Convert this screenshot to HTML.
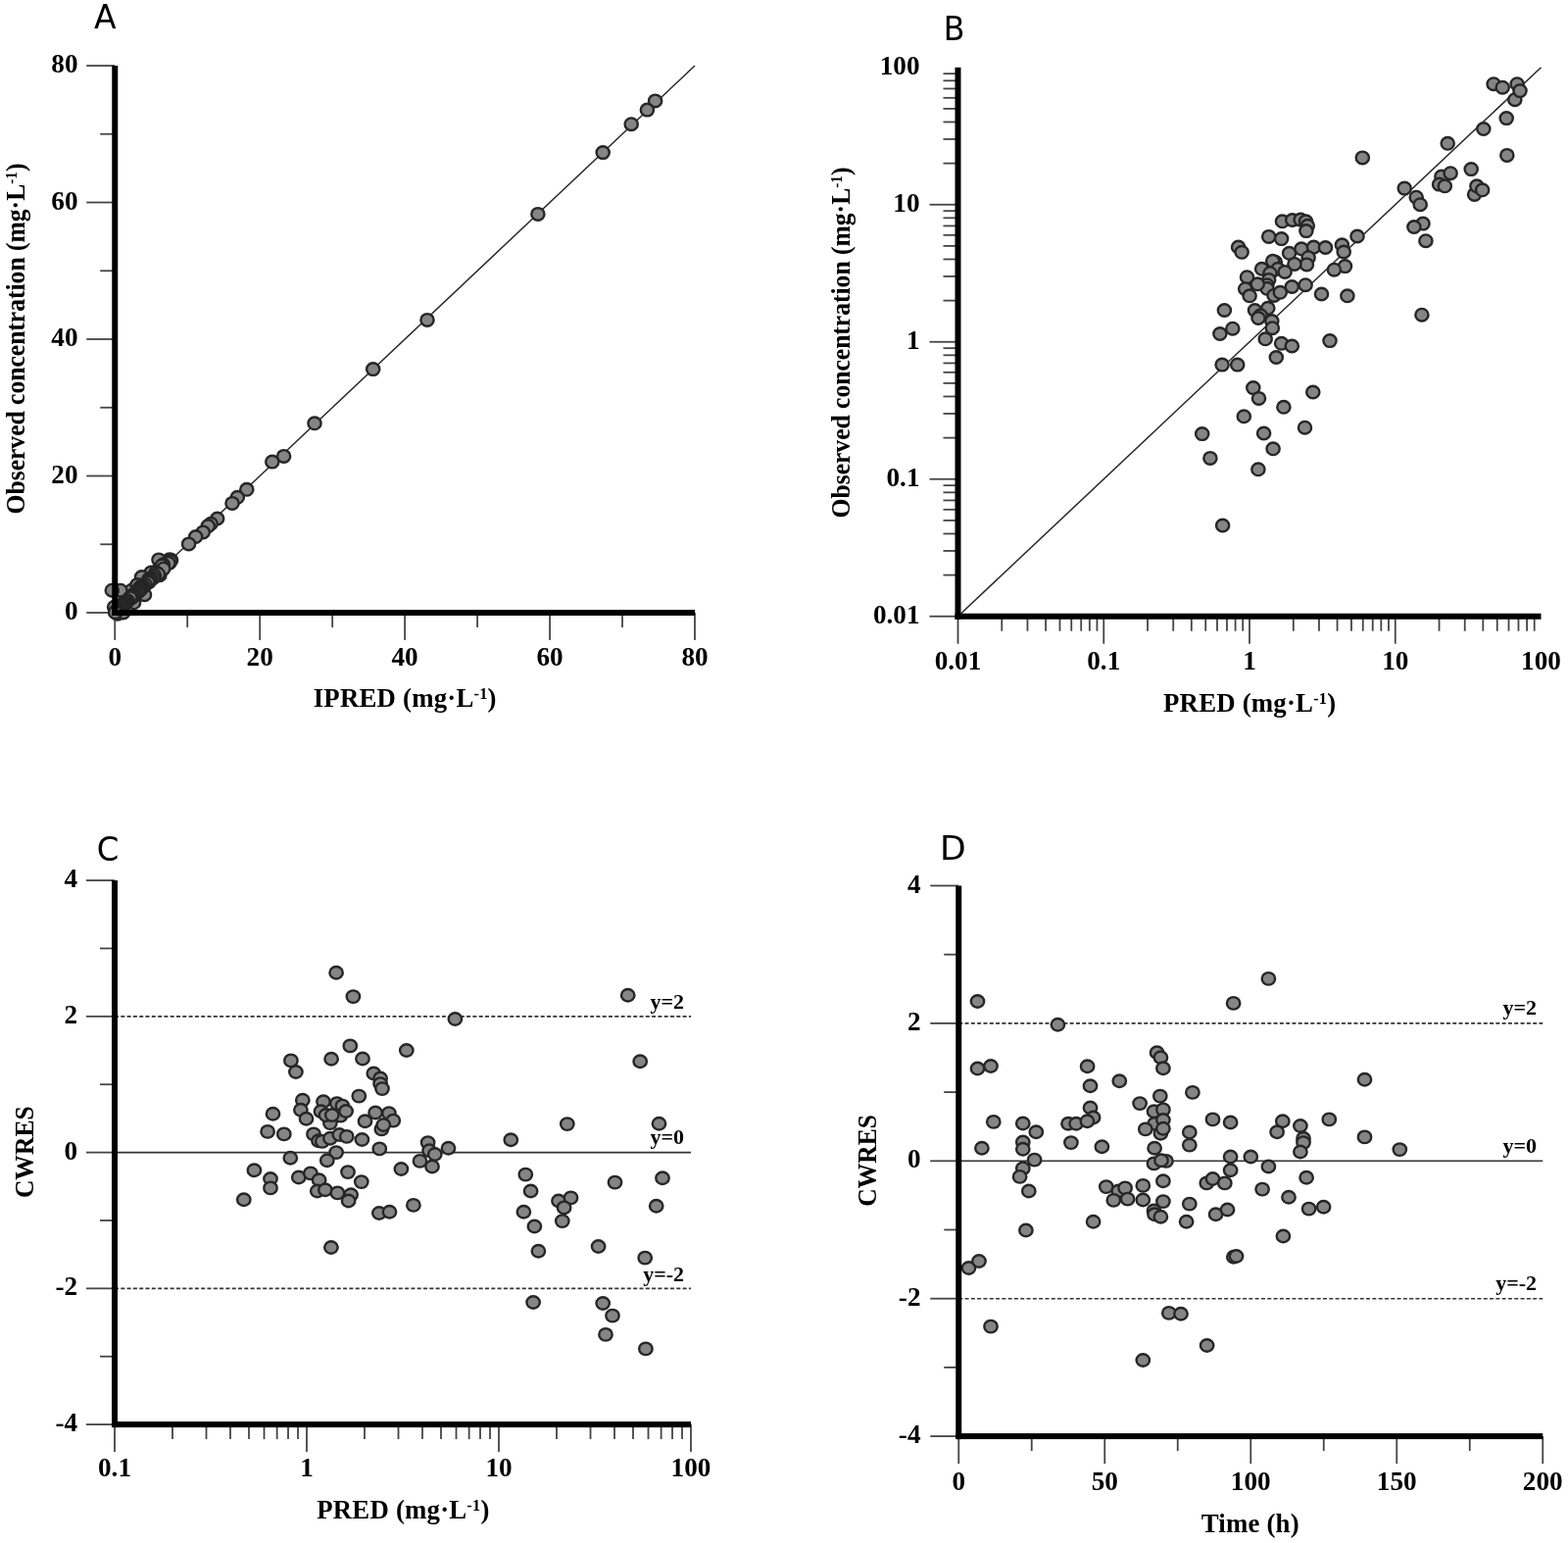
<!DOCTYPE html>
<html><head><meta charset="utf-8"><title>Goodness-of-fit plots</title>
<style>
html,body{margin:0;padding:0;background:#fff;}
svg{display:block;}
.s{font-family:"Liberation Serif","Times New Roman",serif;font-weight:bold;fill:#000;}
.l{font-family:"DejaVu Sans","Liberation Sans",sans-serif;font-weight:normal;fill:#000;}
circle,ellipse{fill:#858585;stroke:#262626;stroke-width:2.4;}
</style></head>
<body>
<svg width="1600" height="1574" viewBox="0 0 1600 1574">
<rect width="1600" height="1574" fill="#fff"/>
<line x1="117.25" y1="625.00" x2="709.00" y2="67.00" stroke="#2a2a2a" stroke-width="1.5" />
<line x1="88.25" y1="625.00" x2="117.25" y2="625.00" stroke="#444" stroke-width="1.8" />
<line x1="117.25" y1="625.00" x2="117.25" y2="653.00" stroke="#444" stroke-width="1.8" />
<text x="79.50" y="632.00" font-size="27.2" text-anchor="end" class="s" >0</text>
<text x="117.25" y="679.30" font-size="27.2" text-anchor="middle" class="s" >0</text>
<line x1="102.25" y1="555.25" x2="117.25" y2="555.25" stroke="#444" stroke-width="1.8" />
<line x1="191.22" y1="625.00" x2="191.22" y2="640.00" stroke="#444" stroke-width="1.8" />
<line x1="88.25" y1="485.50" x2="117.25" y2="485.50" stroke="#444" stroke-width="1.8" />
<line x1="265.19" y1="625.00" x2="265.19" y2="653.00" stroke="#444" stroke-width="1.8" />
<text x="79.50" y="492.50" font-size="27.2" text-anchor="end" class="s" >20</text>
<text x="265.19" y="679.30" font-size="27.2" text-anchor="middle" class="s" >20</text>
<line x1="102.25" y1="415.75" x2="117.25" y2="415.75" stroke="#444" stroke-width="1.8" />
<line x1="339.16" y1="625.00" x2="339.16" y2="640.00" stroke="#444" stroke-width="1.8" />
<line x1="88.25" y1="346.00" x2="117.25" y2="346.00" stroke="#444" stroke-width="1.8" />
<line x1="413.12" y1="625.00" x2="413.12" y2="653.00" stroke="#444" stroke-width="1.8" />
<text x="79.50" y="353.00" font-size="27.2" text-anchor="end" class="s" >40</text>
<text x="413.12" y="679.30" font-size="27.2" text-anchor="middle" class="s" >40</text>
<line x1="102.25" y1="276.25" x2="117.25" y2="276.25" stroke="#444" stroke-width="1.8" />
<line x1="487.09" y1="625.00" x2="487.09" y2="640.00" stroke="#444" stroke-width="1.8" />
<line x1="88.25" y1="206.50" x2="117.25" y2="206.50" stroke="#444" stroke-width="1.8" />
<line x1="561.06" y1="625.00" x2="561.06" y2="653.00" stroke="#444" stroke-width="1.8" />
<text x="79.50" y="213.50" font-size="27.2" text-anchor="end" class="s" >60</text>
<text x="561.06" y="679.30" font-size="27.2" text-anchor="middle" class="s" >60</text>
<line x1="102.25" y1="136.75" x2="117.25" y2="136.75" stroke="#444" stroke-width="1.8" />
<line x1="635.03" y1="625.00" x2="635.03" y2="640.00" stroke="#444" stroke-width="1.8" />
<line x1="88.25" y1="67.00" x2="117.25" y2="67.00" stroke="#444" stroke-width="1.8" />
<line x1="709.00" y1="625.00" x2="709.00" y2="653.00" stroke="#444" stroke-width="1.8" />
<text x="79.50" y="74.00" font-size="27.2" text-anchor="end" class="s" >80</text>
<text x="709.00" y="679.30" font-size="27.2" text-anchor="middle" class="s" >80</text>
<ellipse cx="668.6" cy="102.9" rx="6.6" ry="6.3"/>
<ellipse cx="660.4" cy="112.1" rx="6.6" ry="6.3"/>
<ellipse cx="644.2" cy="126.7" rx="6.6" ry="6.3"/>
<ellipse cx="615.2" cy="155.6" rx="6.6" ry="6.3"/>
<ellipse cx="548.9" cy="218.4" rx="6.6" ry="6.3"/>
<ellipse cx="436.0" cy="326.4" rx="6.6" ry="6.3"/>
<ellipse cx="380.7" cy="376.6" rx="6.6" ry="6.3"/>
<ellipse cx="321.0" cy="431.8" rx="6.6" ry="6.3"/>
<ellipse cx="289.6" cy="465.4" rx="6.6" ry="6.3"/>
<ellipse cx="277.8" cy="471.1" rx="6.6" ry="6.3"/>
<ellipse cx="251.8" cy="499.3" rx="6.6" ry="6.3"/>
<ellipse cx="242.3" cy="507.3" rx="6.6" ry="6.3"/>
<ellipse cx="237.0" cy="513.4" rx="6.6" ry="6.3"/>
<ellipse cx="221.7" cy="529.0" rx="6.6" ry="6.3"/>
<ellipse cx="215.2" cy="534.3" rx="6.6" ry="6.3"/>
<ellipse cx="212.3" cy="536.6" rx="6.6" ry="6.3"/>
<ellipse cx="207.2" cy="542.9" rx="6.6" ry="6.3"/>
<ellipse cx="199.7" cy="547.5" rx="6.6" ry="6.3"/>
<ellipse cx="192.6" cy="554.9" rx="6.6" ry="6.3"/>
<ellipse cx="172.9" cy="574.3" rx="6.6" ry="6.3"/>
<ellipse cx="162.0" cy="570.9" rx="6.6" ry="6.3"/>
<ellipse cx="162.3" cy="580.4" rx="6.6" ry="6.3"/>
<ellipse cx="162.9" cy="586.7" rx="6.6" ry="6.3"/>
<ellipse cx="154.3" cy="583.9" rx="6.6" ry="6.3"/>
<ellipse cx="152.0" cy="591.3" rx="6.6" ry="6.3"/>
<ellipse cx="144.6" cy="588.5" rx="6.6" ry="6.3"/>
<ellipse cx="147.5" cy="606.7" rx="6.6" ry="6.3"/>
<ellipse cx="136.6" cy="614.8" rx="6.6" ry="6.3"/>
<ellipse cx="134.3" cy="602.2" rx="6.6" ry="6.3"/>
<ellipse cx="127.4" cy="613.6" rx="6.6" ry="6.3"/>
<ellipse cx="122.9" cy="602.2" rx="6.6" ry="6.3"/>
<ellipse cx="114.3" cy="602.2" rx="6.6" ry="6.3"/>
<ellipse cx="116.6" cy="619.3" rx="6.6" ry="6.3"/>
<ellipse cx="120.0" cy="626.2" rx="6.6" ry="6.3"/>
<ellipse cx="125.7" cy="625.0" rx="6.6" ry="6.3"/>
<ellipse cx="140.0" cy="596.5" rx="6.6" ry="6.3"/>
<ellipse cx="172.9" cy="570.8" rx="6.6" ry="6.3"/>
<ellipse cx="174.6" cy="571.2" rx="6.6" ry="6.3"/>
<ellipse cx="172.3" cy="572.3" rx="6.6" ry="6.3"/>
<ellipse cx="173.8" cy="572.3" rx="6.6" ry="6.3"/>
<ellipse cx="171.9" cy="574.3" rx="6.6" ry="6.3"/>
<ellipse cx="166.4" cy="576.1" rx="6.6" ry="6.3"/>
<ellipse cx="165.2" cy="577.0" rx="6.6" ry="6.3"/>
<ellipse cx="166.7" cy="580.2" rx="6.6" ry="6.3"/>
<ellipse cx="159.5" cy="584.0" rx="6.6" ry="6.3"/>
<ellipse cx="159.1" cy="584.2" rx="6.6" ry="6.3"/>
<ellipse cx="161.4" cy="585.7" rx="6.6" ry="6.3"/>
<ellipse cx="157.4" cy="587.0" rx="6.6" ry="6.3"/>
<ellipse cx="156.4" cy="589.5" rx="6.6" ry="6.3"/>
<ellipse cx="153.5" cy="590.8" rx="6.6" ry="6.3"/>
<ellipse cx="154.1" cy="590.8" rx="6.6" ry="6.3"/>
<ellipse cx="151.8" cy="591.0" rx="6.6" ry="6.3"/>
<ellipse cx="153.1" cy="591.8" rx="6.6" ry="6.3"/>
<ellipse cx="152.2" cy="593.5" rx="6.6" ry="6.3"/>
<ellipse cx="150.6" cy="593.6" rx="6.6" ry="6.3"/>
<ellipse cx="150.9" cy="594.1" rx="6.6" ry="6.3"/>
<ellipse cx="148.3" cy="596.3" rx="6.6" ry="6.3"/>
<ellipse cx="144.5" cy="597.9" rx="6.6" ry="6.3"/>
<ellipse cx="146.4" cy="598.3" rx="6.6" ry="6.3"/>
<ellipse cx="144.8" cy="599.3" rx="6.6" ry="6.3"/>
<ellipse cx="143.7" cy="599.5" rx="6.6" ry="6.3"/>
<ellipse cx="142.1" cy="600.2" rx="6.6" ry="6.3"/>
<ellipse cx="143.5" cy="601.3" rx="6.6" ry="6.3"/>
<ellipse cx="142.3" cy="601.3" rx="6.6" ry="6.3"/>
<ellipse cx="142.7" cy="601.6" rx="6.6" ry="6.3"/>
<ellipse cx="142.3" cy="602.4" rx="6.6" ry="6.3"/>
<ellipse cx="141.3" cy="602.9" rx="6.6" ry="6.3"/>
<ellipse cx="140.3" cy="604.3" rx="6.6" ry="6.3"/>
<ellipse cx="138.0" cy="605.2" rx="6.6" ry="6.3"/>
<ellipse cx="137.5" cy="606.6" rx="6.6" ry="6.3"/>
<ellipse cx="136.3" cy="606.9" rx="6.6" ry="6.3"/>
<ellipse cx="137.5" cy="606.9" rx="6.6" ry="6.3"/>
<ellipse cx="136.8" cy="607.4" rx="6.6" ry="6.3"/>
<ellipse cx="134.5" cy="607.9" rx="6.6" ry="6.3"/>
<ellipse cx="134.5" cy="608.0" rx="6.6" ry="6.3"/>
<ellipse cx="133.6" cy="609.0" rx="6.6" ry="6.3"/>
<ellipse cx="134.7" cy="609.4" rx="6.6" ry="6.3"/>
<ellipse cx="133.2" cy="609.8" rx="6.6" ry="6.3"/>
<ellipse cx="133.5" cy="609.9" rx="6.6" ry="6.3"/>
<ellipse cx="132.9" cy="609.9" rx="6.6" ry="6.3"/>
<ellipse cx="130.3" cy="612.7" rx="6.6" ry="6.3"/>
<ellipse cx="129.6" cy="613.1" rx="6.6" ry="6.3"/>
<ellipse cx="129.6" cy="613.1" rx="6.6" ry="6.3"/>
<ellipse cx="129.0" cy="614.0" rx="6.6" ry="6.3"/>
<ellipse cx="128.9" cy="614.1" rx="6.6" ry="6.3"/>
<ellipse cx="128.8" cy="614.6" rx="6.6" ry="6.3"/>
<ellipse cx="128.0" cy="615.1" rx="6.6" ry="6.3"/>
<ellipse cx="127.0" cy="616.2" rx="6.6" ry="6.3"/>
<ellipse cx="126.9" cy="616.3" rx="6.6" ry="6.3"/>
<ellipse cx="126.2" cy="617.0" rx="6.6" ry="6.3"/>
<ellipse cx="125.2" cy="617.7" rx="6.6" ry="6.3"/>
<ellipse cx="124.5" cy="617.9" rx="6.6" ry="6.3"/>
<ellipse cx="124.8" cy="618.2" rx="6.6" ry="6.3"/>
<ellipse cx="124.5" cy="618.5" rx="6.6" ry="6.3"/>
<ellipse cx="123.2" cy="619.6" rx="6.6" ry="6.3"/>
<ellipse cx="122.3" cy="620.2" rx="6.6" ry="6.3"/>
<ellipse cx="122.4" cy="620.2" rx="6.6" ry="6.3"/>
<ellipse cx="120.6" cy="621.8" rx="6.6" ry="6.3"/>
<ellipse cx="120.6" cy="622.0" rx="6.6" ry="6.3"/>
<ellipse cx="120.1" cy="622.3" rx="6.6" ry="6.3"/>
<ellipse cx="119.7" cy="622.7" rx="6.6" ry="6.3"/>
<ellipse cx="119.3" cy="623.0" rx="6.6" ry="6.3"/>
<ellipse cx="119.1" cy="623.3" rx="6.6" ry="6.3"/>
<ellipse cx="118.9" cy="623.5" rx="6.6" ry="6.3"/>
<ellipse cx="118.8" cy="623.5" rx="6.6" ry="6.3"/>
<ellipse cx="118.5" cy="623.8" rx="6.6" ry="6.3"/>
<ellipse cx="118.3" cy="624.0" rx="6.6" ry="6.3"/>
<ellipse cx="118.1" cy="624.2" rx="6.6" ry="6.3"/>
<ellipse cx="117.6" cy="624.7" rx="6.6" ry="6.3"/>
<rect x="114.25" y="67.00" width="6" height="561.00" fill="#000"/>
<rect x="114.25" y="622.00" width="594.75" height="6" fill="#000"/>
<text transform="translate(95.90 28.90) scale(1.0 1)" font-size="33" class="l">A</text>
<text x="413.20" y="721.40" font-size="26.8" text-anchor="middle" class="s" letter-spacing="0.2">IPRED (mg·L<tspan dy="-8" font-size="16.4">-1</tspan><tspan dy="8">)</tspan></text>
<text x="0.00" y="0.00" font-size="27.5" text-anchor="middle" class="s" transform="translate(25.2 345.5) rotate(-90) scale(0.93 1)">Observed concentration (mg·L<tspan dy="-8" font-size="16.4">-1</tspan><tspan dy="8">)</tspan></text>
<line x1="977.50" y1="628.75" x2="1572.50" y2="68.75" stroke="#2a2a2a" stroke-width="1.5" />
<line x1="948.50" y1="628.75" x2="977.50" y2="628.75" stroke="#444" stroke-width="1.8" />
<line x1="977.50" y1="628.75" x2="977.50" y2="656.75" stroke="#444" stroke-width="1.8" />
<line x1="962.50" y1="586.61" x2="977.50" y2="586.61" stroke="#444" stroke-width="1.8" />
<line x1="1022.28" y1="628.75" x2="1022.28" y2="643.75" stroke="#444" stroke-width="1.8" />
<line x1="962.50" y1="561.95" x2="977.50" y2="561.95" stroke="#444" stroke-width="1.8" />
<line x1="1048.47" y1="628.75" x2="1048.47" y2="643.75" stroke="#444" stroke-width="1.8" />
<line x1="962.50" y1="544.46" x2="977.50" y2="544.46" stroke="#444" stroke-width="1.8" />
<line x1="1067.06" y1="628.75" x2="1067.06" y2="643.75" stroke="#444" stroke-width="1.8" />
<line x1="962.50" y1="530.89" x2="977.50" y2="530.89" stroke="#444" stroke-width="1.8" />
<line x1="1081.47" y1="628.75" x2="1081.47" y2="643.75" stroke="#444" stroke-width="1.8" />
<line x1="962.50" y1="519.81" x2="977.50" y2="519.81" stroke="#444" stroke-width="1.8" />
<line x1="1093.25" y1="628.75" x2="1093.25" y2="643.75" stroke="#444" stroke-width="1.8" />
<line x1="962.50" y1="510.44" x2="977.50" y2="510.44" stroke="#444" stroke-width="1.8" />
<line x1="1103.21" y1="628.75" x2="1103.21" y2="643.75" stroke="#444" stroke-width="1.8" />
<line x1="962.50" y1="502.32" x2="977.50" y2="502.32" stroke="#444" stroke-width="1.8" />
<line x1="1111.83" y1="628.75" x2="1111.83" y2="643.75" stroke="#444" stroke-width="1.8" />
<line x1="962.50" y1="495.16" x2="977.50" y2="495.16" stroke="#444" stroke-width="1.8" />
<line x1="1119.44" y1="628.75" x2="1119.44" y2="643.75" stroke="#444" stroke-width="1.8" />
<line x1="948.50" y1="488.75" x2="977.50" y2="488.75" stroke="#444" stroke-width="1.8" />
<line x1="1126.25" y1="628.75" x2="1126.25" y2="656.75" stroke="#444" stroke-width="1.8" />
<line x1="962.50" y1="446.61" x2="977.50" y2="446.61" stroke="#444" stroke-width="1.8" />
<line x1="1171.03" y1="628.75" x2="1171.03" y2="643.75" stroke="#444" stroke-width="1.8" />
<line x1="962.50" y1="421.95" x2="977.50" y2="421.95" stroke="#444" stroke-width="1.8" />
<line x1="1197.22" y1="628.75" x2="1197.22" y2="643.75" stroke="#444" stroke-width="1.8" />
<line x1="962.50" y1="404.46" x2="977.50" y2="404.46" stroke="#444" stroke-width="1.8" />
<line x1="1215.81" y1="628.75" x2="1215.81" y2="643.75" stroke="#444" stroke-width="1.8" />
<line x1="962.50" y1="390.89" x2="977.50" y2="390.89" stroke="#444" stroke-width="1.8" />
<line x1="1230.22" y1="628.75" x2="1230.22" y2="643.75" stroke="#444" stroke-width="1.8" />
<line x1="962.50" y1="379.81" x2="977.50" y2="379.81" stroke="#444" stroke-width="1.8" />
<line x1="1242.00" y1="628.75" x2="1242.00" y2="643.75" stroke="#444" stroke-width="1.8" />
<line x1="962.50" y1="370.44" x2="977.50" y2="370.44" stroke="#444" stroke-width="1.8" />
<line x1="1251.96" y1="628.75" x2="1251.96" y2="643.75" stroke="#444" stroke-width="1.8" />
<line x1="962.50" y1="362.32" x2="977.50" y2="362.32" stroke="#444" stroke-width="1.8" />
<line x1="1260.58" y1="628.75" x2="1260.58" y2="643.75" stroke="#444" stroke-width="1.8" />
<line x1="962.50" y1="355.16" x2="977.50" y2="355.16" stroke="#444" stroke-width="1.8" />
<line x1="1268.19" y1="628.75" x2="1268.19" y2="643.75" stroke="#444" stroke-width="1.8" />
<line x1="948.50" y1="348.75" x2="977.50" y2="348.75" stroke="#444" stroke-width="1.8" />
<line x1="1275.00" y1="628.75" x2="1275.00" y2="656.75" stroke="#444" stroke-width="1.8" />
<line x1="962.50" y1="306.61" x2="977.50" y2="306.61" stroke="#444" stroke-width="1.8" />
<line x1="1319.78" y1="628.75" x2="1319.78" y2="643.75" stroke="#444" stroke-width="1.8" />
<line x1="962.50" y1="281.95" x2="977.50" y2="281.95" stroke="#444" stroke-width="1.8" />
<line x1="1345.97" y1="628.75" x2="1345.97" y2="643.75" stroke="#444" stroke-width="1.8" />
<line x1="962.50" y1="264.46" x2="977.50" y2="264.46" stroke="#444" stroke-width="1.8" />
<line x1="1364.56" y1="628.75" x2="1364.56" y2="643.75" stroke="#444" stroke-width="1.8" />
<line x1="962.50" y1="250.89" x2="977.50" y2="250.89" stroke="#444" stroke-width="1.8" />
<line x1="1378.97" y1="628.75" x2="1378.97" y2="643.75" stroke="#444" stroke-width="1.8" />
<line x1="962.50" y1="239.81" x2="977.50" y2="239.81" stroke="#444" stroke-width="1.8" />
<line x1="1390.75" y1="628.75" x2="1390.75" y2="643.75" stroke="#444" stroke-width="1.8" />
<line x1="962.50" y1="230.44" x2="977.50" y2="230.44" stroke="#444" stroke-width="1.8" />
<line x1="1400.71" y1="628.75" x2="1400.71" y2="643.75" stroke="#444" stroke-width="1.8" />
<line x1="962.50" y1="222.32" x2="977.50" y2="222.32" stroke="#444" stroke-width="1.8" />
<line x1="1409.33" y1="628.75" x2="1409.33" y2="643.75" stroke="#444" stroke-width="1.8" />
<line x1="962.50" y1="215.16" x2="977.50" y2="215.16" stroke="#444" stroke-width="1.8" />
<line x1="1416.94" y1="628.75" x2="1416.94" y2="643.75" stroke="#444" stroke-width="1.8" />
<line x1="948.50" y1="208.75" x2="977.50" y2="208.75" stroke="#444" stroke-width="1.8" />
<line x1="1423.75" y1="628.75" x2="1423.75" y2="656.75" stroke="#444" stroke-width="1.8" />
<line x1="962.50" y1="166.61" x2="977.50" y2="166.61" stroke="#444" stroke-width="1.8" />
<line x1="1468.53" y1="628.75" x2="1468.53" y2="643.75" stroke="#444" stroke-width="1.8" />
<line x1="962.50" y1="141.95" x2="977.50" y2="141.95" stroke="#444" stroke-width="1.8" />
<line x1="1494.72" y1="628.75" x2="1494.72" y2="643.75" stroke="#444" stroke-width="1.8" />
<line x1="962.50" y1="124.46" x2="977.50" y2="124.46" stroke="#444" stroke-width="1.8" />
<line x1="1513.31" y1="628.75" x2="1513.31" y2="643.75" stroke="#444" stroke-width="1.8" />
<line x1="962.50" y1="110.89" x2="977.50" y2="110.89" stroke="#444" stroke-width="1.8" />
<line x1="1527.72" y1="628.75" x2="1527.72" y2="643.75" stroke="#444" stroke-width="1.8" />
<line x1="962.50" y1="99.81" x2="977.50" y2="99.81" stroke="#444" stroke-width="1.8" />
<line x1="1539.50" y1="628.75" x2="1539.50" y2="643.75" stroke="#444" stroke-width="1.8" />
<line x1="962.50" y1="90.44" x2="977.50" y2="90.44" stroke="#444" stroke-width="1.8" />
<line x1="1549.46" y1="628.75" x2="1549.46" y2="643.75" stroke="#444" stroke-width="1.8" />
<line x1="962.50" y1="82.32" x2="977.50" y2="82.32" stroke="#444" stroke-width="1.8" />
<line x1="1558.08" y1="628.75" x2="1558.08" y2="643.75" stroke="#444" stroke-width="1.8" />
<line x1="962.50" y1="75.16" x2="977.50" y2="75.16" stroke="#444" stroke-width="1.8" />
<line x1="1565.69" y1="628.75" x2="1565.69" y2="643.75" stroke="#444" stroke-width="1.8" />
<text x="938.50" y="635.75" font-size="27.2" text-anchor="end" class="s" >0.01</text>
<text x="977.50" y="683.30" font-size="27.2" text-anchor="middle" class="s" >0.01</text>
<text x="938.50" y="495.75" font-size="27.2" text-anchor="end" class="s" >0.1</text>
<text x="1126.25" y="683.30" font-size="27.2" text-anchor="middle" class="s" >0.1</text>
<text x="938.50" y="355.75" font-size="27.2" text-anchor="end" class="s" >1</text>
<text x="1275.00" y="683.30" font-size="27.2" text-anchor="middle" class="s" >1</text>
<text x="938.50" y="215.75" font-size="27.2" text-anchor="end" class="s" >10</text>
<text x="1423.75" y="683.30" font-size="27.2" text-anchor="middle" class="s" >10</text>
<text x="938.50" y="75.75" font-size="27.2" text-anchor="end" class="s" >100</text>
<text x="1572.50" y="683.30" font-size="27.2" text-anchor="middle" class="s" >100</text>
<ellipse cx="1524.1" cy="85.7" rx="6.6" ry="6.3"/>
<ellipse cx="1533.2" cy="89.2" rx="6.6" ry="6.3"/>
<ellipse cx="1548.1" cy="85.7" rx="6.6" ry="6.3"/>
<ellipse cx="1545.8" cy="101.7" rx="6.6" ry="6.3"/>
<ellipse cx="1551.0" cy="92.6" rx="6.6" ry="6.3"/>
<ellipse cx="1537.2" cy="120.6" rx="6.6" ry="6.3"/>
<ellipse cx="1513.8" cy="131.5" rx="6.6" ry="6.3"/>
<ellipse cx="1477.2" cy="146.3" rx="6.6" ry="6.3"/>
<ellipse cx="1537.8" cy="158.4" rx="6.6" ry="6.3"/>
<ellipse cx="1501.2" cy="172.6" rx="6.6" ry="6.3"/>
<ellipse cx="1470.9" cy="180.1" rx="6.6" ry="6.3"/>
<ellipse cx="1468.6" cy="188.1" rx="6.6" ry="6.3"/>
<ellipse cx="1480.1" cy="176.7" rx="6.6" ry="6.3"/>
<ellipse cx="1474.3" cy="189.8" rx="6.6" ry="6.3"/>
<ellipse cx="1504.6" cy="198.4" rx="6.6" ry="6.3"/>
<ellipse cx="1506.9" cy="189.8" rx="6.6" ry="6.3"/>
<ellipse cx="1512.6" cy="193.8" rx="6.6" ry="6.3"/>
<ellipse cx="1433.2" cy="192.1" rx="6.6" ry="6.3"/>
<ellipse cx="1445.2" cy="201.2" rx="6.6" ry="6.3"/>
<ellipse cx="1449.2" cy="208.7" rx="6.6" ry="6.3"/>
<ellipse cx="1452.0" cy="228.1" rx="6.6" ry="6.3"/>
<ellipse cx="1442.9" cy="231.5" rx="6.6" ry="6.3"/>
<ellipse cx="1454.9" cy="245.7" rx="6.6" ry="6.3"/>
<ellipse cx="1450.9" cy="321.2" rx="6.6" ry="6.3"/>
<ellipse cx="1390.3" cy="160.9" rx="6.6" ry="6.3"/>
<ellipse cx="1308.5" cy="225.8" rx="6.6" ry="6.3"/>
<ellipse cx="1318.7" cy="224.5" rx="6.6" ry="6.3"/>
<ellipse cx="1327.1" cy="224.1" rx="6.6" ry="6.3"/>
<ellipse cx="1332.5" cy="225.8" rx="6.6" ry="6.3"/>
<ellipse cx="1334.3" cy="230.3" rx="6.6" ry="6.3"/>
<ellipse cx="1332.9" cy="235.6" rx="6.6" ry="6.3"/>
<ellipse cx="1294.7" cy="241.4" rx="6.6" ry="6.3"/>
<ellipse cx="1307.6" cy="243.6" rx="6.6" ry="6.3"/>
<ellipse cx="1385.0" cy="241.0" rx="6.6" ry="6.3"/>
<ellipse cx="1369.4" cy="249.8" rx="6.6" ry="6.3"/>
<ellipse cx="1371.2" cy="257.0" rx="6.6" ry="6.3"/>
<ellipse cx="1372.5" cy="271.6" rx="6.6" ry="6.3"/>
<ellipse cx="1361.4" cy="275.2" rx="6.6" ry="6.3"/>
<ellipse cx="1315.6" cy="258.3" rx="6.6" ry="6.3"/>
<ellipse cx="1328.0" cy="253.8" rx="6.6" ry="6.3"/>
<ellipse cx="1340.5" cy="252.1" rx="6.6" ry="6.3"/>
<ellipse cx="1352.5" cy="252.5" rx="6.6" ry="6.3"/>
<ellipse cx="1335.1" cy="262.7" rx="6.6" ry="6.3"/>
<ellipse cx="1333.4" cy="269.9" rx="6.6" ry="6.3"/>
<ellipse cx="1320.9" cy="269.4" rx="6.6" ry="6.3"/>
<ellipse cx="1301.3" cy="267.2" rx="6.6" ry="6.3"/>
<ellipse cx="1298.7" cy="266.3" rx="6.6" ry="6.3"/>
<ellipse cx="1287.6" cy="274.3" rx="6.6" ry="6.3"/>
<ellipse cx="1304.0" cy="274.3" rx="6.6" ry="6.3"/>
<ellipse cx="1311.1" cy="277.4" rx="6.6" ry="6.3"/>
<ellipse cx="1296.0" cy="278.7" rx="6.6" ry="6.3"/>
<ellipse cx="1263.6" cy="252.0" rx="6.6" ry="6.3"/>
<ellipse cx="1267.1" cy="257.3" rx="6.6" ry="6.3"/>
<ellipse cx="1294.7" cy="285.4" rx="6.6" ry="6.3"/>
<ellipse cx="1292.9" cy="290.7" rx="6.6" ry="6.3"/>
<ellipse cx="1292.9" cy="294.3" rx="6.6" ry="6.3"/>
<ellipse cx="1283.2" cy="289.8" rx="6.6" ry="6.3"/>
<ellipse cx="1272.5" cy="282.7" rx="6.6" ry="6.3"/>
<ellipse cx="1270.7" cy="294.7" rx="6.6" ry="6.3"/>
<ellipse cx="1275.1" cy="301.8" rx="6.6" ry="6.3"/>
<ellipse cx="1300.0" cy="301.4" rx="6.6" ry="6.3"/>
<ellipse cx="1306.3" cy="298.3" rx="6.6" ry="6.3"/>
<ellipse cx="1318.3" cy="292.5" rx="6.6" ry="6.3"/>
<ellipse cx="1332.1" cy="290.7" rx="6.6" ry="6.3"/>
<ellipse cx="1348.5" cy="300.0" rx="6.6" ry="6.3"/>
<ellipse cx="1374.9" cy="301.8" rx="6.6" ry="6.3"/>
<ellipse cx="1249.4" cy="316.5" rx="6.6" ry="6.3"/>
<ellipse cx="1280.5" cy="316.5" rx="6.6" ry="6.3"/>
<ellipse cx="1293.8" cy="314.3" rx="6.6" ry="6.3"/>
<ellipse cx="1286.3" cy="321.8" rx="6.6" ry="6.3"/>
<ellipse cx="1284.0" cy="324.5" rx="6.6" ry="6.3"/>
<ellipse cx="1297.8" cy="327.6" rx="6.6" ry="6.3"/>
<ellipse cx="1298.3" cy="334.7" rx="6.6" ry="6.3"/>
<ellipse cx="1257.8" cy="335.2" rx="6.6" ry="6.3"/>
<ellipse cx="1244.9" cy="340.5" rx="6.6" ry="6.3"/>
<ellipse cx="1291.2" cy="345.8" rx="6.6" ry="6.3"/>
<ellipse cx="1307.6" cy="350.3" rx="6.6" ry="6.3"/>
<ellipse cx="1318.3" cy="353.0" rx="6.6" ry="6.3"/>
<ellipse cx="1302.3" cy="364.5" rx="6.6" ry="6.3"/>
<ellipse cx="1357.0" cy="347.6" rx="6.6" ry="6.3"/>
<ellipse cx="1247.1" cy="372.1" rx="6.6" ry="6.3"/>
<ellipse cx="1262.7" cy="372.1" rx="6.6" ry="6.3"/>
<ellipse cx="1278.8" cy="395.6" rx="6.6" ry="6.3"/>
<ellipse cx="1284.5" cy="406.4" rx="6.6" ry="6.3"/>
<ellipse cx="1339.8" cy="400.0" rx="6.6" ry="6.3"/>
<ellipse cx="1309.9" cy="415.3" rx="6.6" ry="6.3"/>
<ellipse cx="1269.3" cy="424.8" rx="6.6" ry="6.3"/>
<ellipse cx="1226.7" cy="442.6" rx="6.6" ry="6.3"/>
<ellipse cx="1289.6" cy="442.0" rx="6.6" ry="6.3"/>
<ellipse cx="1331.5" cy="436.2" rx="6.6" ry="6.3"/>
<ellipse cx="1299.1" cy="457.8" rx="6.6" ry="6.3"/>
<ellipse cx="1234.9" cy="467.4" rx="6.6" ry="6.3"/>
<ellipse cx="1283.9" cy="478.8" rx="6.6" ry="6.3"/>
<ellipse cx="1247.6" cy="536.0" rx="6.6" ry="6.3"/>
<rect x="974.50" y="68.75" width="6" height="563.00" fill="#000"/>
<rect x="974.50" y="625.75" width="598.00" height="6" fill="#000"/>
<text transform="translate(962.80 40.80) scale(0.96 1)" font-size="33" class="l">B</text>
<text x="1275.20" y="726.40" font-size="26.8" text-anchor="middle" class="s" letter-spacing="0.2">PRED (mg·L<tspan dy="-8" font-size="16.4">-1</tspan><tspan dy="8">)</tspan></text>
<text x="0.00" y="0.00" font-size="27.5" text-anchor="middle" class="s" transform="translate(867.2 349.5) rotate(-90) scale(0.93 1)">Observed concentration (mg·L<tspan dy="-8" font-size="16.4">-1</tspan><tspan dy="8">)</tspan></text>
<line x1="117.00" y1="1453.10" x2="117.00" y2="1481.10" stroke="#444" stroke-width="1.8" />
<line x1="176.00" y1="1453.10" x2="176.00" y2="1468.10" stroke="#444" stroke-width="1.8" />
<line x1="210.52" y1="1453.10" x2="210.52" y2="1468.10" stroke="#444" stroke-width="1.8" />
<line x1="235.00" y1="1453.10" x2="235.00" y2="1468.10" stroke="#444" stroke-width="1.8" />
<line x1="254.00" y1="1453.10" x2="254.00" y2="1468.10" stroke="#444" stroke-width="1.8" />
<line x1="269.52" y1="1453.10" x2="269.52" y2="1468.10" stroke="#444" stroke-width="1.8" />
<line x1="282.64" y1="1453.10" x2="282.64" y2="1468.10" stroke="#444" stroke-width="1.8" />
<line x1="294.01" y1="1453.10" x2="294.01" y2="1468.10" stroke="#444" stroke-width="1.8" />
<line x1="304.03" y1="1453.10" x2="304.03" y2="1468.10" stroke="#444" stroke-width="1.8" />
<line x1="313.00" y1="1453.10" x2="313.00" y2="1481.10" stroke="#444" stroke-width="1.8" />
<line x1="372.00" y1="1453.10" x2="372.00" y2="1468.10" stroke="#444" stroke-width="1.8" />
<line x1="406.52" y1="1453.10" x2="406.52" y2="1468.10" stroke="#444" stroke-width="1.8" />
<line x1="431.00" y1="1453.10" x2="431.00" y2="1468.10" stroke="#444" stroke-width="1.8" />
<line x1="450.00" y1="1453.10" x2="450.00" y2="1468.10" stroke="#444" stroke-width="1.8" />
<line x1="465.52" y1="1453.10" x2="465.52" y2="1468.10" stroke="#444" stroke-width="1.8" />
<line x1="478.64" y1="1453.10" x2="478.64" y2="1468.10" stroke="#444" stroke-width="1.8" />
<line x1="490.01" y1="1453.10" x2="490.01" y2="1468.10" stroke="#444" stroke-width="1.8" />
<line x1="500.03" y1="1453.10" x2="500.03" y2="1468.10" stroke="#444" stroke-width="1.8" />
<line x1="509.00" y1="1453.10" x2="509.00" y2="1481.10" stroke="#444" stroke-width="1.8" />
<line x1="568.00" y1="1453.10" x2="568.00" y2="1468.10" stroke="#444" stroke-width="1.8" />
<line x1="602.52" y1="1453.10" x2="602.52" y2="1468.10" stroke="#444" stroke-width="1.8" />
<line x1="627.00" y1="1453.10" x2="627.00" y2="1468.10" stroke="#444" stroke-width="1.8" />
<line x1="646.00" y1="1453.10" x2="646.00" y2="1468.10" stroke="#444" stroke-width="1.8" />
<line x1="661.52" y1="1453.10" x2="661.52" y2="1468.10" stroke="#444" stroke-width="1.8" />
<line x1="674.64" y1="1453.10" x2="674.64" y2="1468.10" stroke="#444" stroke-width="1.8" />
<line x1="686.01" y1="1453.10" x2="686.01" y2="1468.10" stroke="#444" stroke-width="1.8" />
<line x1="696.03" y1="1453.10" x2="696.03" y2="1468.10" stroke="#444" stroke-width="1.8" />
<line x1="705.00" y1="1453.10" x2="705.00" y2="1481.10" stroke="#444" stroke-width="1.8" />
<line x1="88.00" y1="1453.10" x2="117.00" y2="1453.10" stroke="#444" stroke-width="1.8" />
<text x="79.20" y="1460.10" font-size="27.2" text-anchor="end" class="s" >-4</text>
<line x1="102.00" y1="1383.72" x2="117.00" y2="1383.72" stroke="#444" stroke-width="1.8" />
<line x1="88.00" y1="1314.35" x2="117.00" y2="1314.35" stroke="#444" stroke-width="1.8" />
<text x="79.20" y="1321.35" font-size="27.2" text-anchor="end" class="s" >-2</text>
<line x1="102.00" y1="1244.97" x2="117.00" y2="1244.97" stroke="#444" stroke-width="1.8" />
<line x1="88.00" y1="1175.60" x2="117.00" y2="1175.60" stroke="#444" stroke-width="1.8" />
<text x="79.20" y="1182.60" font-size="27.2" text-anchor="end" class="s" >0</text>
<line x1="102.00" y1="1106.22" x2="117.00" y2="1106.22" stroke="#444" stroke-width="1.8" />
<line x1="88.00" y1="1036.85" x2="117.00" y2="1036.85" stroke="#444" stroke-width="1.8" />
<text x="79.20" y="1043.85" font-size="27.2" text-anchor="end" class="s" >2</text>
<line x1="102.00" y1="967.47" x2="117.00" y2="967.47" stroke="#444" stroke-width="1.8" />
<line x1="88.00" y1="898.10" x2="117.00" y2="898.10" stroke="#444" stroke-width="1.8" />
<text x="79.20" y="905.10" font-size="27.2" text-anchor="end" class="s" >4</text>
<text x="117.00" y="1505.50" font-size="27.2" text-anchor="middle" class="s" >0.1</text>
<text x="313.00" y="1505.50" font-size="27.2" text-anchor="middle" class="s" >1</text>
<text x="509.00" y="1505.50" font-size="27.2" text-anchor="middle" class="s" >10</text>
<text x="705.00" y="1505.50" font-size="27.2" text-anchor="middle" class="s" >100</text>
<line x1="117.00" y1="1175.60" x2="705.00" y2="1175.60" stroke="#333" stroke-width="1.6" />
<line x1="117.00" y1="1036.85" x2="705.00" y2="1036.85" stroke="#333" stroke-width="1.6" stroke-dasharray="4 2.3"/>
<line x1="117.00" y1="1314.35" x2="705.00" y2="1314.35" stroke="#333" stroke-width="1.6" stroke-dasharray="4 2.3"/>
<ellipse cx="343.1" cy="992.3" rx="6.7" ry="6.25"/>
<ellipse cx="360.4" cy="1016.6" rx="6.7" ry="6.25"/>
<ellipse cx="357.3" cy="1066.9" rx="6.7" ry="6.25"/>
<ellipse cx="338.1" cy="1080.3" rx="6.7" ry="6.25"/>
<ellipse cx="370.0" cy="1080.0" rx="6.7" ry="6.25"/>
<ellipse cx="414.8" cy="1071.5" rx="6.7" ry="6.25"/>
<ellipse cx="296.9" cy="1081.9" rx="6.7" ry="6.25"/>
<ellipse cx="301.9" cy="1093.5" rx="6.7" ry="6.25"/>
<ellipse cx="381.3" cy="1095.0" rx="6.7" ry="6.25"/>
<ellipse cx="388.1" cy="1100.0" rx="6.7" ry="6.25"/>
<ellipse cx="388.1" cy="1105.6" rx="6.7" ry="6.25"/>
<ellipse cx="390.0" cy="1110.6" rx="6.7" ry="6.25"/>
<ellipse cx="366.3" cy="1118.1" rx="6.7" ry="6.25"/>
<ellipse cx="308.8" cy="1122.3" rx="6.7" ry="6.25"/>
<ellipse cx="306.9" cy="1132.3" rx="6.7" ry="6.25"/>
<ellipse cx="312.5" cy="1141.3" rx="6.7" ry="6.25"/>
<ellipse cx="278.5" cy="1136.3" rx="6.7" ry="6.25"/>
<ellipse cx="273.1" cy="1154.4" rx="6.7" ry="6.25"/>
<ellipse cx="289.8" cy="1156.9" rx="6.7" ry="6.25"/>
<ellipse cx="336.9" cy="1145.6" rx="6.7" ry="6.25"/>
<ellipse cx="330.0" cy="1123.8" rx="6.7" ry="6.25"/>
<ellipse cx="343.8" cy="1125.6" rx="6.7" ry="6.25"/>
<ellipse cx="349.4" cy="1128.1" rx="6.7" ry="6.25"/>
<ellipse cx="347.5" cy="1138.1" rx="6.7" ry="6.25"/>
<ellipse cx="327.5" cy="1133.8" rx="6.7" ry="6.25"/>
<ellipse cx="332.5" cy="1137.5" rx="6.7" ry="6.25"/>
<ellipse cx="338.8" cy="1137.5" rx="6.7" ry="6.25"/>
<ellipse cx="353.1" cy="1133.5" rx="6.7" ry="6.25"/>
<ellipse cx="320.0" cy="1156.9" rx="6.7" ry="6.25"/>
<ellipse cx="325.0" cy="1163.8" rx="6.7" ry="6.25"/>
<ellipse cx="328.8" cy="1164.4" rx="6.7" ry="6.25"/>
<ellipse cx="336.9" cy="1161.3" rx="6.7" ry="6.25"/>
<ellipse cx="346.3" cy="1157.5" rx="6.7" ry="6.25"/>
<ellipse cx="353.8" cy="1159.4" rx="6.7" ry="6.25"/>
<ellipse cx="369.4" cy="1162.5" rx="6.7" ry="6.25"/>
<ellipse cx="372.5" cy="1143.8" rx="6.7" ry="6.25"/>
<ellipse cx="383.1" cy="1135.0" rx="6.7" ry="6.25"/>
<ellipse cx="396.9" cy="1135.6" rx="6.7" ry="6.25"/>
<ellipse cx="401.3" cy="1143.1" rx="6.7" ry="6.25"/>
<ellipse cx="389.4" cy="1151.9" rx="6.7" ry="6.25"/>
<ellipse cx="391.3" cy="1147.5" rx="6.7" ry="6.25"/>
<ellipse cx="387.3" cy="1171.9" rx="6.7" ry="6.25"/>
<ellipse cx="343.1" cy="1175.6" rx="6.7" ry="6.25"/>
<ellipse cx="333.8" cy="1183.8" rx="6.7" ry="6.25"/>
<ellipse cx="296.3" cy="1181.3" rx="6.7" ry="6.25"/>
<ellipse cx="409.4" cy="1192.5" rx="6.7" ry="6.25"/>
<ellipse cx="355.0" cy="1195.6" rx="6.7" ry="6.25"/>
<ellipse cx="368.8" cy="1205.6" rx="6.7" ry="6.25"/>
<ellipse cx="259.4" cy="1193.8" rx="6.7" ry="6.25"/>
<ellipse cx="276.0" cy="1202.5" rx="6.7" ry="6.25"/>
<ellipse cx="276.0" cy="1211.9" rx="6.7" ry="6.25"/>
<ellipse cx="248.8" cy="1223.8" rx="6.7" ry="6.25"/>
<ellipse cx="304.8" cy="1201.0" rx="6.7" ry="6.25"/>
<ellipse cx="316.9" cy="1196.9" rx="6.7" ry="6.25"/>
<ellipse cx="325.6" cy="1203.8" rx="6.7" ry="6.25"/>
<ellipse cx="323.8" cy="1215.0" rx="6.7" ry="6.25"/>
<ellipse cx="331.9" cy="1213.8" rx="6.7" ry="6.25"/>
<ellipse cx="344.4" cy="1216.9" rx="6.7" ry="6.25"/>
<ellipse cx="358.1" cy="1218.8" rx="6.7" ry="6.25"/>
<ellipse cx="355.6" cy="1225.0" rx="6.7" ry="6.25"/>
<ellipse cx="386.9" cy="1237.5" rx="6.7" ry="6.25"/>
<ellipse cx="397.5" cy="1236.3" rx="6.7" ry="6.25"/>
<ellipse cx="421.9" cy="1229.4" rx="6.7" ry="6.25"/>
<ellipse cx="464.4" cy="1039.5" rx="6.7" ry="6.25"/>
<ellipse cx="578.8" cy="1146.6" rx="6.7" ry="6.25"/>
<ellipse cx="521.3" cy="1162.8" rx="6.7" ry="6.25"/>
<ellipse cx="436.6" cy="1165.6" rx="6.7" ry="6.25"/>
<ellipse cx="457.5" cy="1171.3" rx="6.7" ry="6.25"/>
<ellipse cx="438.1" cy="1173.8" rx="6.7" ry="6.25"/>
<ellipse cx="443.8" cy="1177.5" rx="6.7" ry="6.25"/>
<ellipse cx="428.5" cy="1184.4" rx="6.7" ry="6.25"/>
<ellipse cx="441.0" cy="1190.0" rx="6.7" ry="6.25"/>
<ellipse cx="536.3" cy="1198.1" rx="6.7" ry="6.25"/>
<ellipse cx="541.6" cy="1215.0" rx="6.7" ry="6.25"/>
<ellipse cx="534.4" cy="1236.3" rx="6.7" ry="6.25"/>
<ellipse cx="545.4" cy="1251.0" rx="6.7" ry="6.25"/>
<ellipse cx="549.4" cy="1276.3" rx="6.7" ry="6.25"/>
<ellipse cx="570.0" cy="1225.0" rx="6.7" ry="6.25"/>
<ellipse cx="582.5" cy="1221.9" rx="6.7" ry="6.25"/>
<ellipse cx="575.6" cy="1231.9" rx="6.7" ry="6.25"/>
<ellipse cx="573.8" cy="1245.6" rx="6.7" ry="6.25"/>
<ellipse cx="337.9" cy="1272.5" rx="6.7" ry="6.25"/>
<ellipse cx="627.5" cy="1206.1" rx="6.7" ry="6.25"/>
<ellipse cx="676.0" cy="1201.7" rx="6.7" ry="6.25"/>
<ellipse cx="669.7" cy="1230.3" rx="6.7" ry="6.25"/>
<ellipse cx="610.6" cy="1271.5" rx="6.7" ry="6.25"/>
<ellipse cx="658.2" cy="1283.1" rx="6.7" ry="6.25"/>
<ellipse cx="615.2" cy="1329.5" rx="6.7" ry="6.25"/>
<ellipse cx="625.0" cy="1342.1" rx="6.7" ry="6.25"/>
<ellipse cx="618.0" cy="1361.4" rx="6.7" ry="6.25"/>
<ellipse cx="658.9" cy="1375.9" rx="6.7" ry="6.25"/>
<ellipse cx="640.7" cy="1015.2" rx="6.7" ry="6.25"/>
<ellipse cx="653.2" cy="1082.8" rx="6.7" ry="6.25"/>
<ellipse cx="672.5" cy="1146.3" rx="6.7" ry="6.25"/>
<ellipse cx="544.1" cy="1328.5" rx="6.7" ry="6.25"/>
<rect x="114.00" y="898.10" width="6" height="558.00" fill="#000"/>
<rect x="114.00" y="1450.10" width="591.00" height="6" fill="#000"/>
<text transform="translate(98.80 878.00) scale(0.98 1)" font-size="33" class="l">C</text>
<text x="411.40" y="1549.20" font-size="26.8" text-anchor="middle" class="s" letter-spacing="0.2">PRED (mg·L<tspan dy="-8" font-size="16.4">-1</tspan><tspan dy="8">)</tspan></text>
<text x="0.00" y="0.00" font-size="27.5" text-anchor="middle" class="s" transform="translate(33.8 1175.2) rotate(-90) scale(0.93 1)">CWRES</text>
<text x="698.00" y="1029.00" font-size="22" text-anchor="end" class="s" >y=2</text>
<text x="698.00" y="1166.50" font-size="22" text-anchor="end" class="s" >y=0</text>
<text x="698.00" y="1307.00" font-size="22" text-anchor="end" class="s" >y=-2</text>
<line x1="978.25" y1="1465.10" x2="978.25" y2="1493.10" stroke="#444" stroke-width="1.8" />
<text x="978.25" y="1519.50" font-size="27.2" text-anchor="middle" class="s" >0</text>
<line x1="1052.75" y1="1465.10" x2="1052.75" y2="1480.10" stroke="#444" stroke-width="1.8" />
<line x1="1127.25" y1="1465.10" x2="1127.25" y2="1493.10" stroke="#444" stroke-width="1.8" />
<text x="1127.25" y="1519.50" font-size="27.2" text-anchor="middle" class="s" >50</text>
<line x1="1201.75" y1="1465.10" x2="1201.75" y2="1480.10" stroke="#444" stroke-width="1.8" />
<line x1="1276.25" y1="1465.10" x2="1276.25" y2="1493.10" stroke="#444" stroke-width="1.8" />
<text x="1276.25" y="1519.50" font-size="27.2" text-anchor="middle" class="s" >100</text>
<line x1="1350.75" y1="1465.10" x2="1350.75" y2="1480.10" stroke="#444" stroke-width="1.8" />
<line x1="1425.25" y1="1465.10" x2="1425.25" y2="1493.10" stroke="#444" stroke-width="1.8" />
<text x="1425.25" y="1519.50" font-size="27.2" text-anchor="middle" class="s" >150</text>
<line x1="1499.75" y1="1465.10" x2="1499.75" y2="1480.10" stroke="#444" stroke-width="1.8" />
<line x1="1574.25" y1="1465.10" x2="1574.25" y2="1493.10" stroke="#444" stroke-width="1.8" />
<text x="1574.25" y="1519.50" font-size="27.2" text-anchor="middle" class="s" >200</text>
<line x1="949.25" y1="1465.10" x2="978.25" y2="1465.10" stroke="#444" stroke-width="1.8" />
<text x="939.50" y="1472.10" font-size="27.2" text-anchor="end" class="s" >-4</text>
<line x1="963.25" y1="1394.90" x2="978.25" y2="1394.90" stroke="#444" stroke-width="1.8" />
<line x1="949.25" y1="1324.70" x2="978.25" y2="1324.70" stroke="#444" stroke-width="1.8" />
<text x="939.50" y="1331.70" font-size="27.2" text-anchor="end" class="s" >-2</text>
<line x1="963.25" y1="1254.50" x2="978.25" y2="1254.50" stroke="#444" stroke-width="1.8" />
<line x1="949.25" y1="1184.30" x2="978.25" y2="1184.30" stroke="#444" stroke-width="1.8" />
<text x="939.50" y="1191.30" font-size="27.2" text-anchor="end" class="s" >0</text>
<line x1="963.25" y1="1114.10" x2="978.25" y2="1114.10" stroke="#444" stroke-width="1.8" />
<line x1="949.25" y1="1043.90" x2="978.25" y2="1043.90" stroke="#444" stroke-width="1.8" />
<text x="939.50" y="1050.90" font-size="27.2" text-anchor="end" class="s" >2</text>
<line x1="963.25" y1="973.70" x2="978.25" y2="973.70" stroke="#444" stroke-width="1.8" />
<line x1="949.25" y1="903.50" x2="978.25" y2="903.50" stroke="#444" stroke-width="1.8" />
<text x="939.50" y="910.50" font-size="27.2" text-anchor="end" class="s" >4</text>
<line x1="978.25" y1="1184.30" x2="1574.25" y2="1184.30" stroke="#333" stroke-width="1.6" />
<line x1="978.25" y1="1043.90" x2="1574.25" y2="1043.90" stroke="#333" stroke-width="1.6" stroke-dasharray="4 2.3"/>
<line x1="978.25" y1="1324.70" x2="1574.25" y2="1324.70" stroke="#333" stroke-width="1.6" stroke-dasharray="4 2.3"/>
<ellipse cx="1178.1" cy="1146.3" rx="6.7" ry="6.25"/>
<ellipse cx="1184.4" cy="1156.3" rx="6.7" ry="6.25"/>
<ellipse cx="1177.5" cy="1133.8" rx="6.7" ry="6.25"/>
<ellipse cx="1186.9" cy="1131.9" rx="6.7" ry="6.25"/>
<ellipse cx="1186.9" cy="1142.5" rx="6.7" ry="6.25"/>
<ellipse cx="1186.9" cy="1151.3" rx="6.7" ry="6.25"/>
<ellipse cx="997.5" cy="1021.5" rx="6.7" ry="6.25"/>
<ellipse cx="1079.4" cy="1045.3" rx="6.7" ry="6.25"/>
<ellipse cx="997.5" cy="1090.0" rx="6.7" ry="6.25"/>
<ellipse cx="1011.0" cy="1087.5" rx="6.7" ry="6.25"/>
<ellipse cx="1109.6" cy="1087.8" rx="6.7" ry="6.25"/>
<ellipse cx="1112.5" cy="1107.8" rx="6.7" ry="6.25"/>
<ellipse cx="1142.3" cy="1102.8" rx="6.7" ry="6.25"/>
<ellipse cx="1163.1" cy="1125.6" rx="6.7" ry="6.25"/>
<ellipse cx="1112.5" cy="1130.0" rx="6.7" ry="6.25"/>
<ellipse cx="1115.6" cy="1140.0" rx="6.7" ry="6.25"/>
<ellipse cx="1013.8" cy="1144.4" rx="6.7" ry="6.25"/>
<ellipse cx="1043.8" cy="1146.0" rx="6.7" ry="6.25"/>
<ellipse cx="1057.3" cy="1154.8" rx="6.7" ry="6.25"/>
<ellipse cx="1043.8" cy="1165.0" rx="6.7" ry="6.25"/>
<ellipse cx="1043.8" cy="1172.3" rx="6.7" ry="6.25"/>
<ellipse cx="1001.9" cy="1171.3" rx="6.7" ry="6.25"/>
<ellipse cx="1055.6" cy="1183.1" rx="6.7" ry="6.25"/>
<ellipse cx="1043.8" cy="1191.9" rx="6.7" ry="6.25"/>
<ellipse cx="1040.6" cy="1200.4" rx="6.7" ry="6.25"/>
<ellipse cx="1049.8" cy="1215.0" rx="6.7" ry="6.25"/>
<ellipse cx="1046.9" cy="1255.0" rx="6.7" ry="6.25"/>
<ellipse cx="1090.0" cy="1146.3" rx="6.7" ry="6.25"/>
<ellipse cx="1098.1" cy="1146.3" rx="6.7" ry="6.25"/>
<ellipse cx="1109.4" cy="1143.8" rx="6.7" ry="6.25"/>
<ellipse cx="1092.9" cy="1165.6" rx="6.7" ry="6.25"/>
<ellipse cx="1124.4" cy="1169.8" rx="6.7" ry="6.25"/>
<ellipse cx="1128.8" cy="1210.6" rx="6.7" ry="6.25"/>
<ellipse cx="1141.3" cy="1215.0" rx="6.7" ry="6.25"/>
<ellipse cx="1148.1" cy="1211.9" rx="6.7" ry="6.25"/>
<ellipse cx="1136.3" cy="1224.4" rx="6.7" ry="6.25"/>
<ellipse cx="1150.6" cy="1223.1" rx="6.7" ry="6.25"/>
<ellipse cx="1166.3" cy="1209.4" rx="6.7" ry="6.25"/>
<ellipse cx="1166.3" cy="1224.0" rx="6.7" ry="6.25"/>
<ellipse cx="1115.6" cy="1246.3" rx="6.7" ry="6.25"/>
<ellipse cx="1168.8" cy="1151.9" rx="6.7" ry="6.25"/>
<ellipse cx="988.5" cy="1293.5" rx="6.7" ry="6.25"/>
<ellipse cx="999.0" cy="1286.5" rx="6.7" ry="6.25"/>
<ellipse cx="1011.0" cy="1353.1" rx="6.7" ry="6.25"/>
<ellipse cx="1166.3" cy="1387.5" rx="6.7" ry="6.25"/>
<ellipse cx="1294.4" cy="998.4" rx="6.7" ry="6.25"/>
<ellipse cx="1258.6" cy="1023.4" rx="6.7" ry="6.25"/>
<ellipse cx="1180.6" cy="1073.8" rx="6.7" ry="6.25"/>
<ellipse cx="1184.4" cy="1078.8" rx="6.7" ry="6.25"/>
<ellipse cx="1186.9" cy="1089.8" rx="6.7" ry="6.25"/>
<ellipse cx="1183.8" cy="1118.1" rx="6.7" ry="6.25"/>
<ellipse cx="1216.9" cy="1114.4" rx="6.7" ry="6.25"/>
<ellipse cx="1237.5" cy="1141.9" rx="6.7" ry="6.25"/>
<ellipse cx="1255.6" cy="1145.0" rx="6.7" ry="6.25"/>
<ellipse cx="1308.8" cy="1143.8" rx="6.7" ry="6.25"/>
<ellipse cx="1326.9" cy="1148.5" rx="6.7" ry="6.25"/>
<ellipse cx="1356.3" cy="1141.9" rx="6.7" ry="6.25"/>
<ellipse cx="1213.8" cy="1155.0" rx="6.7" ry="6.25"/>
<ellipse cx="1213.8" cy="1168.1" rx="6.7" ry="6.25"/>
<ellipse cx="1303.1" cy="1154.8" rx="6.7" ry="6.25"/>
<ellipse cx="1330.0" cy="1161.3" rx="6.7" ry="6.25"/>
<ellipse cx="1330.0" cy="1165.6" rx="6.7" ry="6.25"/>
<ellipse cx="1326.9" cy="1175.0" rx="6.7" ry="6.25"/>
<ellipse cx="1178.1" cy="1171.3" rx="6.7" ry="6.25"/>
<ellipse cx="1177.5" cy="1186.9" rx="6.7" ry="6.25"/>
<ellipse cx="1190.0" cy="1184.4" rx="6.7" ry="6.25"/>
<ellipse cx="1185.0" cy="1183.8" rx="6.7" ry="6.25"/>
<ellipse cx="1255.6" cy="1180.0" rx="6.7" ry="6.25"/>
<ellipse cx="1255.6" cy="1193.8" rx="6.7" ry="6.25"/>
<ellipse cx="1276.3" cy="1180.0" rx="6.7" ry="6.25"/>
<ellipse cx="1294.4" cy="1190.0" rx="6.7" ry="6.25"/>
<ellipse cx="1186.9" cy="1204.8" rx="6.7" ry="6.25"/>
<ellipse cx="1231.3" cy="1206.9" rx="6.7" ry="6.25"/>
<ellipse cx="1237.5" cy="1202.5" rx="6.7" ry="6.25"/>
<ellipse cx="1249.8" cy="1206.9" rx="6.7" ry="6.25"/>
<ellipse cx="1288.1" cy="1213.1" rx="6.7" ry="6.25"/>
<ellipse cx="1333.1" cy="1201.3" rx="6.7" ry="6.25"/>
<ellipse cx="1315.0" cy="1221.3" rx="6.7" ry="6.25"/>
<ellipse cx="1186.9" cy="1225.6" rx="6.7" ry="6.25"/>
<ellipse cx="1177.5" cy="1235.0" rx="6.7" ry="6.25"/>
<ellipse cx="1178.1" cy="1238.8" rx="6.7" ry="6.25"/>
<ellipse cx="1184.4" cy="1241.3" rx="6.7" ry="6.25"/>
<ellipse cx="1213.8" cy="1228.1" rx="6.7" ry="6.25"/>
<ellipse cx="1210.6" cy="1246.3" rx="6.7" ry="6.25"/>
<ellipse cx="1240.6" cy="1238.8" rx="6.7" ry="6.25"/>
<ellipse cx="1252.5" cy="1234.0" rx="6.7" ry="6.25"/>
<ellipse cx="1335.6" cy="1233.1" rx="6.7" ry="6.25"/>
<ellipse cx="1350.6" cy="1231.3" rx="6.7" ry="6.25"/>
<ellipse cx="1309.4" cy="1261.0" rx="6.7" ry="6.25"/>
<ellipse cx="1258.8" cy="1282.3" rx="6.7" ry="6.25"/>
<ellipse cx="1261.5" cy="1281.5" rx="6.7" ry="6.25"/>
<ellipse cx="1192.8" cy="1339.4" rx="6.7" ry="6.25"/>
<ellipse cx="1205.0" cy="1340.3" rx="6.7" ry="6.25"/>
<ellipse cx="1231.6" cy="1372.5" rx="6.7" ry="6.25"/>
<ellipse cx="1392.5" cy="1101.2" rx="6.7" ry="6.25"/>
<ellipse cx="1392.5" cy="1159.9" rx="6.7" ry="6.25"/>
<ellipse cx="1428.3" cy="1172.6" rx="6.7" ry="6.25"/>
<rect x="975.25" y="903.50" width="6" height="564.60" fill="#000"/>
<rect x="975.25" y="1462.10" width="599.00" height="6" fill="#000"/>
<text transform="translate(959.00 876.50) scale(1.05 1)" font-size="33" class="l">D</text>
<text x="1275.80" y="1562.80" font-size="26.8" text-anchor="middle" class="s" letter-spacing="0.2">Time (h)</text>
<text x="0.00" y="0.00" font-size="27.5" text-anchor="middle" class="s" transform="translate(894.3 1183.8) rotate(-90) scale(0.93 1)">CWRES</text>
<text x="1568.00" y="1035.00" font-size="22" text-anchor="end" class="s" >y=2</text>
<text x="1568.00" y="1176.00" font-size="22" text-anchor="end" class="s" >y=0</text>
<text x="1568.00" y="1316.00" font-size="22" text-anchor="end" class="s" >y=-2</text>
</svg>
</body></html>
